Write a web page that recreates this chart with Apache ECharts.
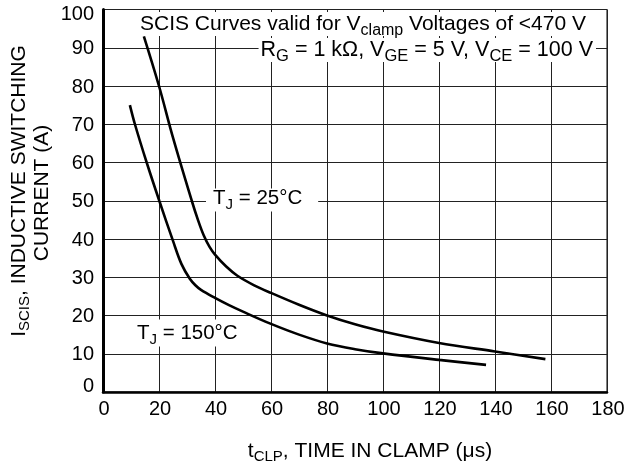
<!DOCTYPE html>
<html><head><meta charset="utf-8">
<script src="https://cdn.jsdelivr.net/npm/echarts@6/dist/echarts.min.js"></script>
<style>html,body{margin:0;padding:0;background:#fff}#c{width:629px;height:467px}</style>
</head><body><div id="c"></div>
<script>
const xTicks = [0, 20, 40, 60, 80, 100, 120, 140, 160, 180];
const yTicks = [0, 10, 20, 30, 40, 50, 60, 70, 80, 90, 100];
const t25 = [14.6, 20, 25, 31.7, 34, 36, 38, 40, 44, 48, 54, 60, 70, 80, 90, 100, 120, 140, 158];
const i25 = [93, 80, 66.5, 50, 44.8, 40.9, 38, 35.9, 32.8, 30.4, 27.9, 25.9, 22.8, 20, 17.7, 15.8, 12.8, 10.6, 8.6];
const t150 = [9.6, 11.4, 15.6, 20.1, 25, 28, 31, 33, 35, 40, 45, 50, 60, 70, 80, 90, 100, 120, 136.8];
const i150 = [75, 70, 60, 50, 39.5, 33.5, 29.6, 27.9, 26.7, 24.6, 22.7, 21, 17.8, 15, 12.7, 11.2, 10.1, 8.4, 7.1];

const FONT = "'Liberation Sans', Arial, Helvetica, sans-serif";
function mkRich(fs, sub, lh, pad) {
  return {
    a: {fontSize: fs, fontFamily: FONT, color: '#000', lineHeight: lh},
    s: {fontSize: sub, fontFamily: FONT, color: '#000', lineHeight: lh, padding: [pad, 0, 0, 0]}
  };
}
const richAnn = mkRich(21, 16, 24, 13);
const richAnn2 = mkRich(21.5, 16.5, 24, 13);
const richLbl = mkRich(20.5, 15, 24, 13);
const richTitle = mkRich(21, 15, 24, 12);
const richTick = mkRich(20, 14, 24, 0);
function txt(x, y, text, align, rich, pad, bg) {
  return {
    type: 'text', x: x, y: y, z: 5, silent: true,
    style: {
      text: text, rich: rich, align: align || 'left', verticalAlign: 'middle',
      backgroundColor: bg ? '#fff' : 'transparent', padding: pad || [0, 0, 0, 0]
    }
  };
}
const chart = echarts.init(document.getElementById('c'), null, {renderer: 'canvas'});
chart.setOption({
  backgroundColor: '#fff',
  animation: false,
  grid: {left: 103, right: 22, top: 9.5, bottom: 75, show: true, borderColor: '#000', borderWidth: 1, z: 0},
  xAxis: {
    type: 'value', min: xTicks[0], max: xTicks[xTicks.length - 1], interval: 20,
    axisLine: {show: true, lineStyle: {color: '#000', width: 2.5}},
    axisTick: {show: false},
    splitLine: {show: true, lineStyle: {color: '#222', width: 1}},
    axisLabel: {show: false}
  },
  yAxis: {
    type: 'value', min: yTicks[0], max: yTicks[yTicks.length - 1], interval: 10,
    axisLine: {show: true, lineStyle: {color: '#000', width: 3}},
    axisTick: {show: false},
    splitLine: {show: true, lineStyle: {color: '#222', width: 1}},
    axisLabel: {show: false}
  },
  series: [
    {type: 'line', data: t25.map((t, i) => [t, i25[i]]), smooth: 0.35, showSymbol: false, z: 10,
     lineStyle: {color: '#000', width: 2.6}},
    {type: 'line', data: t150.map((t, i) => [t, i150[i]]), smooth: 0.35, showSymbol: false, z: 10,
     lineStyle: {color: '#000', width: 2.6}}
  ]
});

// tick labels placed through the library's own scales
const g = [];
const yTopPx = chart.convertToPixel({gridIndex: 0}, [0, yTicks[yTicks.length - 1]])[1];
const yBotPx = chart.convertToPixel({gridIndex: 0}, [0, yTicks[0]])[1];
xTicks.forEach(v => {
  const p = chart.convertToPixel({gridIndex: 0}, [v, 0]);
  g.push(txt(p[0] + 1, p[1] + 17.5, '{a|' + v + '}', 'center', richTick));
});
yTicks.forEach(v => {
  const p = chart.convertToPixel({gridIndex: 0}, [0, v]);
  const y = Math.min(Math.max(p[1] + 1, yTopPx + 5), yBotPx - 6);
  g.push(txt(p[0] - 9, y, '{a|' + v + '}', 'right', richTick));
});
g.push(
  txt(139, 24, '{a|SCIS Curves valid for V}{s|clamp}{a| Voltages of <470 V}', 'left', richAnn, [0, 1, 0, 1], true),
  txt(596, 50, '{a|R}{s|G}{a| = 1 k\u03a9, V}{s|GE}{a| = 5 V, V}{s|CE}{a| = 100 V}', 'right', richAnn2, [0, 3, 0, 2], true),
  txt(206, 200, '{a|T}{s|J}{a| = 25\u00b0C}', 'left', richLbl, [-2, 16, 1, 7], true),
  txt(130, 333, '{a|T}{s|J}{a| = 150\u00b0C}', 'left', richLbl, [2, 6, 1, 7], true),
  txt(370, 451, '{a|t}{s|CLP}{a|, TIME IN CLAMP (\u03bcs)}', 'center', richTitle),
  {type: 'text', x: 19, y: 191, rotation: Math.PI / 2, z: 5, silent: true,
   style: {text: '{a|I}{s|SCIS}{a|, INDUCTIVE SWITCHING}', rich: richTitle, align: 'center', verticalAlign: 'middle'}},
  {type: 'text', x: 42, y: 193, rotation: Math.PI / 2, z: 5, silent: true,
   style: {text: '{a|CURRENT (A)}', rich: richTitle, align: 'center', verticalAlign: 'middle'}}
);
chart.setOption({graphic: g});
</script></body></html>
